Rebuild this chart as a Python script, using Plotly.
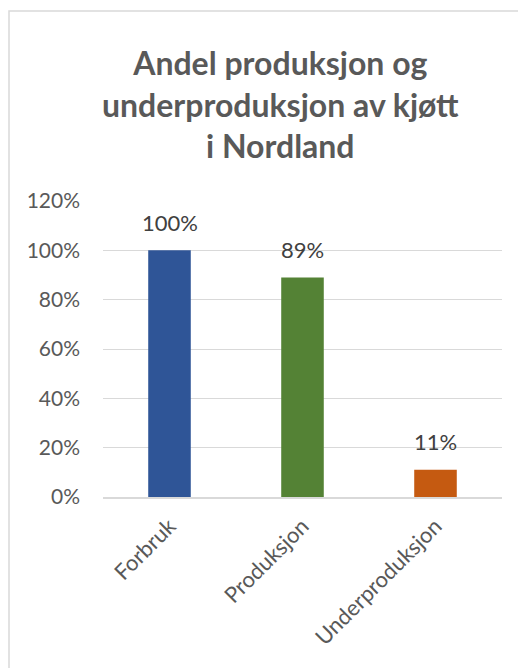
import plotly.graph_objects as go

categories = ["Forbruk", "Produksjon", "Underproduksjon"]
values = [1.00, 0.89, 0.11]
labels = ["100%", "89%", "11%"]
colors = ["#2F5597", "#548235", "#C55A11"]
tick_vals = [0, 0.2, 0.4, 0.6, 0.8, 1.0, 1.2]
tick_text = ["0%", "20%", "40%", "60%", "80%", "100%", "120%"]
title_text = "Andel produksjon og<br>underproduksjon av kjøtt<br>i Nordland"

FONT = "Lato"

fig = go.Figure(go.Bar(
    x=categories, y=values,
    marker=dict(color=colors, line=dict(width=0)),
    width=0.32, hoverinfo="skip",
))

L, R, T, B = 103, 16, 201, 171
W, H = 518, 668
pw = W - L - R
ph = H - T - B

annotations = [dict(
    text=title_text, xref="paper", yref="paper",
    x=(280 - L) / pw, y=(H - B - 104) / ph, xanchor="center", yanchor="middle",
    showarrow=False, align="center",
    font=dict(family=FONT, size=32, color="#595959", weight="bold"),
)]
for c, v, t in zip(categories, values, labels):
    annotations.append(dict(
        x=c, y=v, xref="x", yref="y", text=t, showarrow=False,
        xanchor="center", yanchor="middle", yshift=28,
        font=dict(family=FONT, size=22, color="#404040"),
    ))

fig.update_layout(
    width=W, height=H,
    margin=dict(l=L, r=R, t=T, b=B, pad=0),
    paper_bgcolor="white", plot_bgcolor="white",
    showlegend=False,
    font=dict(family=FONT, color="#595959"),
    annotations=annotations,
    shapes=[dict(
        type="rect", xref="paper", yref="paper",
        x0=(9 - L) / pw, x1=(W + 40 - L) / pw,
        y0=(H - B - (H + 40)) / ph, y1=(H - B - 11) / ph,
        line=dict(color="#D9D9D9", width=1.5), fillcolor="rgba(0,0,0,0)", layer="below",
    )],
)

fig.update_yaxes(
    range=[0, 1.2], tickvals=tick_vals, ticktext=tick_text,
    showgrid=True, gridcolor="#D9D9D9", gridwidth=1,
    zeroline=False, showline=False, ticks="",
    tickfont=dict(family=FONT, size=21, color="#595959"),
    ticklabelstandoff=22,
)
fig.update_xaxes(
    showline=True, linecolor="#D9D9D9", linewidth=1.5,
    tickangle=-45, ticks="",
    tickfont=dict(family=FONT, size=22, color="#595959"),
    ticklabelstandoff=6,
)

fig.write_html("out.html", config={"displayModeBar": False},
               post_script="document.body.style.margin='0px';")
